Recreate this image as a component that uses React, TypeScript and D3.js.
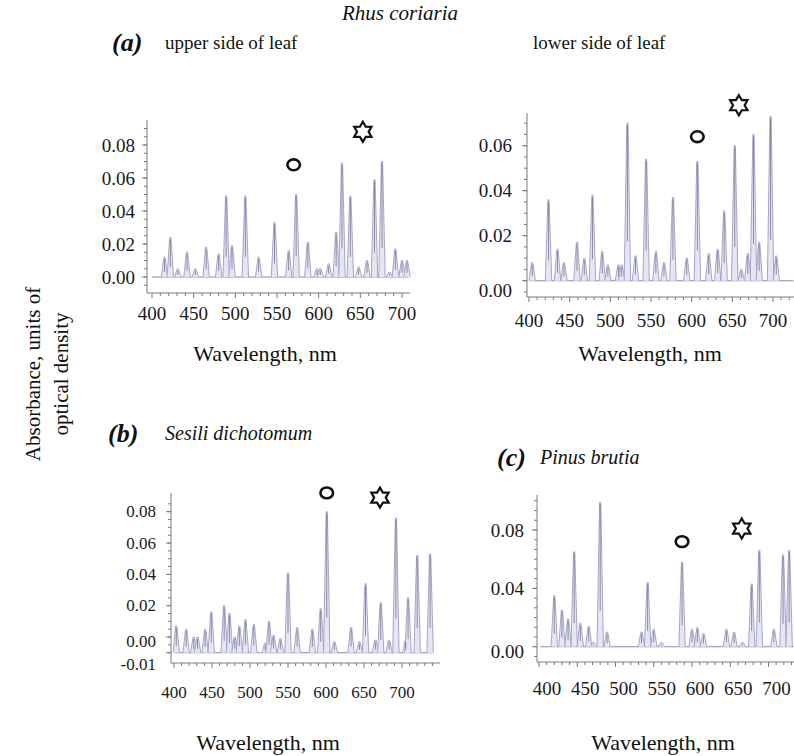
import React, { useEffect, useRef } from "react";
import * as d3 from "d3";

// peak positions (nm) and heights (optical density)
const upperNm = [415, 422, 431, 442, 452, 465, 480, 489, 496, 512, 528, 547, 564, 573, 587, 598, 602, 612, 621, 628, 638, 648, 658, 667, 676, 685, 692, 700, 706];
const upperOD = [0.012, 0.024, 0.005, 0.015, 0.005, 0.018, 0.014, 0.049, 0.019, 0.049, 0.012, 0.033, 0.016, 0.05, 0.021, 0.005, 0.005, 0.008, 0.027, 0.069, 0.049, 0.006, 0.01, 0.059, 0.07, 0.003, 0.017, 0.01, 0.01];

const lowerNm = [404, 424, 435, 443, 459, 468, 478, 490, 497, 510, 514, 521, 531, 544, 556, 566, 577, 594, 607, 621, 632, 640, 653, 661, 669, 676, 683, 697, 704];
const lowerOD = [0.008, 0.036, 0.014, 0.008, 0.017, 0.01, 0.038, 0.013, 0.007, 0.007, 0.007, 0.07, 0.011, 0.054, 0.013, 0.008, 0.037, 0.01, 0.053, 0.012, 0.014, 0.031, 0.06, 0.005, 0.012, 0.065, 0.017, 0.073, 0.011];

const sesiliNm = [403, 416, 426, 431, 441, 449, 466, 473, 480, 486, 494, 505, 520, 525, 531, 540, 550, 562, 582, 593, 601, 611, 633, 644, 652, 665, 672, 683, 692, 705, 708, 720, 737];
const sesiliOD = [0.007, 0.005, 0.0, 0.0, 0.005, 0.016, 0.02, 0.015, 0.0, 0.007, 0.011, 0.008, -0.004, 0.01, 0.001, -0.001, 0.041, 0.006, 0.005, 0.018, 0.08, -0.003, 0.006, -0.003, 0.034, -0.002, 0.022, -0.002, 0.076, -0.002, 0.025, 0.052, 0.053];

const pinusNm = [420, 430, 438, 446, 454, 465, 471, 480, 489, 534, 542, 550, 560, 587, 600, 607, 615, 645, 655, 666, 678, 688, 707, 719, 727];
const pinusOD = [0.035, 0.025, 0.019, 0.065, 0.016, 0.014, 0.003, 0.099, 0.01, 0.01, 0.044, 0.012, 0.003, 0.058, 0.012, 0.013, 0.009, 0.012, 0.01, 0.003, 0.043, 0.066, 0.012, 0.063, 0.066];

const xTickLabels = [400, 450, 500, 550, 600, 650, 700];
const upperYTicks = [0, 0.02, 0.04, 0.06, 0.08];
const lowerYTicks = [0, 0.02, 0.04, 0.06];
const sesiliYTicks = [-0.01, 0, 0.02, 0.04, 0.06, 0.08];
const pinusYTicks = [0, 0.04, 0.08];

// circle / star annotations as [nm, OD]
const upperMarks = [[570, 0.068], [653, 0.088]];
const lowerMarks = [[607, 0.064], [658, 0.078]];
const sesiliMarks = [[601, 0.092], [671, 0.089]];
const pinusMarks = [[587, 0.072], [665, 0.081]];

const panels = [
  { nm: upperNm, od: upperOD, yTicks: upperYTicks, marks: upperMarks, base: 0, top: 0.08, span: [400, 708],
    xr: [152, 402], yr: [277, 145], axisX: 147, axisTop: 120, axisY: 293, axisRight: 410,
    labelRight: 135, xLabelY: 313, font: 19, minor: 0.005, yMin: -0.009, yMax: 0.094, xMax: 710, dys: {} as Record<string, number>, dx: 0 },
  { nm: lowerNm, od: lowerOD, yTicks: lowerYTicks, marks: lowerMarks, base: 0, top: 0.06, span: [401, 725],
    xr: [529, 773], yr: [280.7, 145.7], axisX: 527, axisTop: 113, axisY: 297, axisRight: 794,
    labelRight: 512, xLabelY: 320, font: 19, minor: 0.005, yMin: -0.006, yMax: 0.074, xMax: 725, dys: { "0": 10 } as Record<string, number>, dx: 0 },
  { nm: sesiliNm, od: sesiliOD, yTicks: sesiliYTicks, marks: sesiliMarks, base: -0.01, top: 0.08, span: [400, 740],
    xr: [174, 402], yr: [652.7, 511.7], axisX: 171, axisTop: 493, axisY: 663, axisRight: 440,
    labelRight: 156, xLabelY: 692, font: 17, minor: 0.005, yMin: -0.013, yMax: 0.09, xMax: 750, dys: { "0": 4, "-0.01": 12 } as Record<string, number>, dx: 0 },
  { nm: pinusNm, od: pinusOD, yTicks: pinusYTicks, marks: pinusMarks, base: 0, top: 0.08, span: [402, 733],
    xr: [539, 768.5], yr: [646.7, 530], axisX: 537, axisTop: 495, axisY: 662, axisRight: 794,
    labelRight: 524, xLabelY: 688, font: 19, minor: 0.04 / 6, yMin: -0.01, yMax: 0.102, xMax: 735, dys: { "0": 5 } as Record<string, number>, dx: 8 },
];

const serif = "'Liberation Serif', 'Times New Roman', serif";

const star = (cx: number, cy: number, R = 10, r = 5.8) =>
  d3.range(12).map((i) => {
    const a = -Math.PI / 2 + (i * Math.PI) / 6;
    const rad = i % 2 === 0 ? R : r;
    return [cx + rad * Math.cos(a), cy + rad * Math.sin(a)];
  });

const drawPanel = (svg: any, p: any) => {
  const x = d3.scaleLinear().domain([400, 700]).range(p.xr);
  const y = d3.scaleLinear().domain([p.base, p.top]).range(p.yr);
  const g = svg.append("g");
  const axisColor = "#7a7a7a";

  // axes
  g.append("line").attr("x1", p.axisX).attr("x2", p.axisX).attr("y1", p.axisTop).attr("y2", p.axisY)
    .attr("stroke", axisColor);
  g.append("line").attr("x1", p.axisX).attr("x2", p.axisRight).attr("y1", p.axisY).attr("y2", p.axisY)
    .attr("stroke", axisColor);

  // y ticks
  const yMinor = d3.range(Math.ceil(p.yMin / p.minor) * p.minor, p.yMax, p.minor);
  g.selectAll(".ym").data(yMinor).enter().append("line")
    .attr("x1", p.axisX - 3).attr("x2", p.axisX).attr("y1", (d: number) => y(d)).attr("y2", (d: number) => y(d))
    .attr("stroke", axisColor);
  g.selectAll(".yM").data(p.yTicks).enter().append("line")
    .attr("x1", p.axisX - 5).attr("x2", p.axisX).attr("y1", (d: number) => y(d)).attr("y2", (d: number) => y(d))
    .attr("stroke", axisColor);
  g.selectAll(".yl").data(p.yTicks).enter().append("text")
    .attr("x", p.labelRight)
    .attr("y", (d: number) => y(d) + (p.dys[String(d)] || 0))
    .attr("text-anchor", "end").attr("dominant-baseline", "central")
    .style("font-family", serif).style("font-size", `${p.font}px`)
    .attr("fill", "#1a1a1a").text((d: number) => d.toFixed(2));

  // x ticks
  g.selectAll(".xm").data(d3.range(400, p.xMax, 10)).enter().append("line")
    .attr("x1", (d: number) => x(d)).attr("x2", (d: number) => x(d))
    .attr("y1", p.axisY).attr("y2", (d: number) => p.axisY + (d % 50 === 0 ? 5 : 3))
    .attr("stroke", axisColor);
  g.selectAll(".xl").data(xTickLabels).enter().append("text")
    .attr("x", (d: number) => x(d) + p.dx).attr("y", p.xLabelY)
    .attr("text-anchor", "middle").attr("dominant-baseline", "central")
    .style("font-family", serif).style("font-size", `${p.font}px`)
    .attr("fill", "#1a1a1a").text((d: number) => d);

  // baseline of the spectrum
  g.append("line").attr("x1", x(p.span[0])).attr("x2", Math.min(x(p.span[1]), 794))
    .attr("y1", y(p.base)).attr("y2", y(p.base)).attr("stroke", "#8a8ab2").attr("stroke-width", 1.1);

  // peaks
  const peaks = p.nm.map((n: number, i: number) => ({ n, v: p.od[i] }));
  g.selectAll(".pk").data(peaks).enter().append("path")
    .attr("d", (d: any) => {
      const cx = x(d.n), b = y(p.base), t = y(d.v);
      return `M${cx - 3.2},${b} L${cx - 0.6},${t} L${cx + 0.6},${t} L${cx + 3.2},${b}`;
    })
    .attr("fill", "#e6e6f3").attr("stroke", "#9c9cca").attr("stroke-width", 0.9);
  g.selectAll(".pc").data(peaks).enter().append("line")
    .attr("x1", (d: any) => x(d.n)).attr("x2", (d: any) => x(d.n))
    .attr("y1", (d: any) => y(d.v) + 2).attr("y2", (d: any) => y(d.v) + (y(p.base) - y(d.v)) * 0.75)
    .attr("stroke", "#5f5f70").attr("stroke-width", 0.9).attr("opacity", 0.75);

  // annotations: circle and six-pointed star
  const [c, s] = p.marks;
  g.append("ellipse").attr("cx", x(c[0])).attr("cy", y(c[1])).attr("rx", 6.3).attr("ry", 5.4)
    .attr("fill", "none").attr("stroke", "#111").attr("stroke-width", 2.6);
  g.append("polygon").attr("points", star(x(s[0]), y(s[1])).map((q) => q.join(",")).join(" "))
    .attr("fill", "none").attr("stroke", "#111").attr("stroke-width", 2.2);
};

const App = () => {
  const ref = useRef<SVGSVGElement>(null);

  useEffect(() => {
    const svg = d3.select(ref.current);
    svg.selectAll("*").remove();
    svg.append("rect").attr("width", 794).attr("height", 756).attr("fill", "white");
    panels.forEach((p) => drawPanel(svg, p));

    const txt = (t: string, xx: number, yy: number, size: number, opts: any = {}) =>
      svg.append("text").attr("x", xx).attr("y", yy).text(t)
        .style("font-family", serif).style("font-size", `${size}px`)
        .style("font-style", opts.italic ? "italic" : "normal")
        .style("font-weight", opts.bold ? "bold" : "normal")
        .attr("text-anchor", opts.anchor || "start").attr("fill", "#111");

    txt("Rhus coriaria", 400, 20, 21, { italic: true, anchor: "middle" });
    txt("(a)", 112, 51, 26, { italic: true, bold: true });
    txt("upper side of leaf", 165, 49, 19);
    txt("lower side of leaf", 533, 49, 19);
    txt("(b)", 108, 442, 26, { italic: true, bold: true });
    txt("Sesili dichotomum", 165, 440, 20, { italic: true });
    txt("(c)", 497, 466, 26, { italic: true, bold: true });
    txt("Pinus brutia", 540, 464, 20, { italic: true });
    txt("Wavelength, nm", 265, 361, 22, { anchor: "middle" });
    txt("Wavelength, nm", 650, 361, 22, { anchor: "middle" });
    txt("Wavelength, nm", 268, 750, 22, { anchor: "middle" });
    txt("Wavelength, nm", 663, 750, 22, { anchor: "middle" });

    svg.append("text").attr("transform", "translate(33,374) rotate(-90)")
      .attr("text-anchor", "middle").attr("dominant-baseline", "central")
      .style("font-family", serif).style("font-size", "21px").attr("fill", "#111")
      .text("Absorbance, units of");
    svg.append("text").attr("transform", "translate(61,374) rotate(-90)")
      .attr("text-anchor", "middle").attr("dominant-baseline", "central")
      .style("font-family", serif).style("font-size", "21px").attr("fill", "#111")
      .text("optical density");
  }, []);

  return (
    <svg ref={ref} width={794} height={756}
      style={{ position: "absolute", left: 0, top: 0, display: "block" }} />
  );
};

export default App;
